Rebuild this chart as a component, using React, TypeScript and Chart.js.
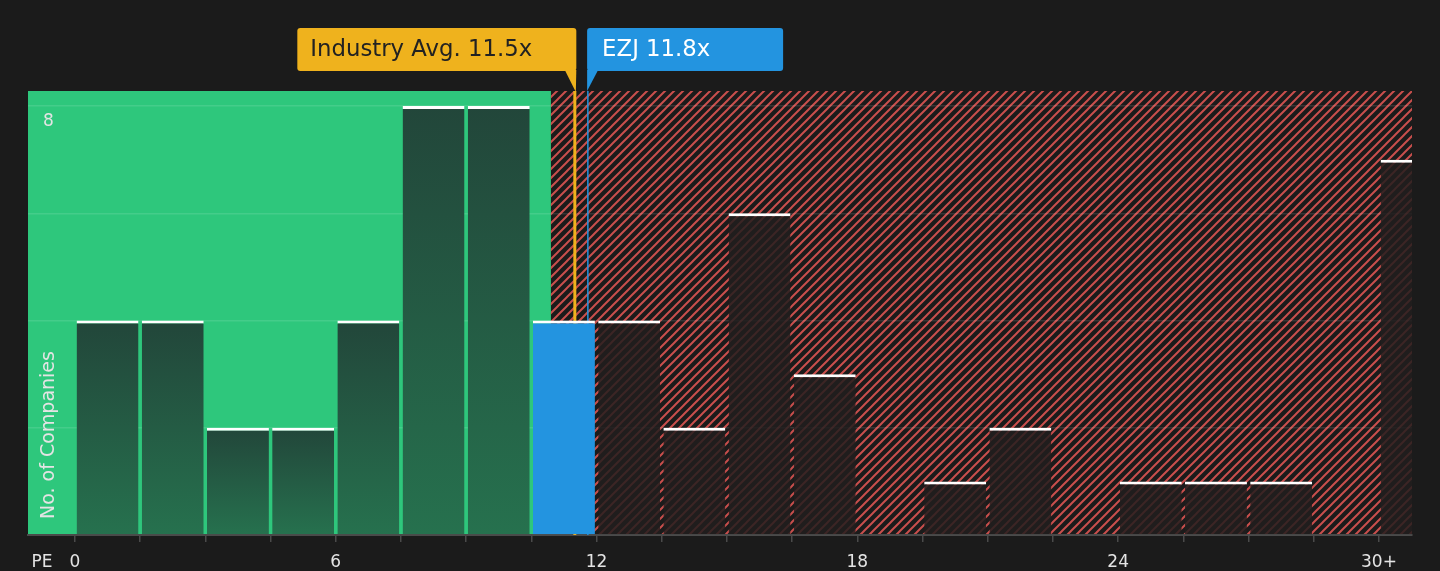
import React, { useEffect, useRef } from "react";
import { Chart, registerables } from "chart.js";

Chart.register(...registerables);

// ---- data ----
const BIN_STARTS = [0, 1.5, 3, 4.5, 6, 7.5, 9, 10.5, 12, 13.5, 15, 16.5, 18, 19.5, 21, 22.5, 24, 25.5, 27, 28.5, 30];
const COUNTS = [4, 4, 2, 2, 4, 8, 8, 4, 4, 2, 6, 3, 0, 1, 2, 0, 1, 1, 1, 0, 7];
const BIN_WIDTH = 1.5;
const HIGHLIGHT_INDEX = 7;
const X_TICKS = [0, 1.5, 3, 4.5, 6, 7.5, 9, 10.5, 12, 13.5, 15, 16.5, 18, 19.5, 21, 22.5, 24, 25.5, 27, 28.5, 30];
const X_TICK_LABELS: Record<string, string> = { "0": "0", "6": "6", "12": "12", "18": "18", "24": "24", "30": "30+" };
const Y_TICKS = [0, 2, 4, 6, 8];
const Y_TICK_LABELS: Record<string, string> = { "8": "8" };
const INDUSTRY_AVG = 11.5;
const COMPANY_PE = 11.8;
const COMPANY_NAME = "EZJ";
const INDUSTRY_LABEL = `Industry Avg. ${INDUSTRY_AVG}x`;
const COMPANY_LABEL = `${COMPANY_NAME} ${COMPANY_PE}x`;
const GOOD_VALUE_LIMIT = 10.95;
const X_MIN = -1.08;
const X_MAX = 30.76;
const Y_MAX = 8.28;
const AXIS_TITLE_X = "PE";
const AXIS_TITLE_Y = "No. of Companies";

// ---- styles ----
const FONT = "'DejaVu Sans', sans-serif";
const BG = "#1b1b1b";
const GREEN = "#2ec77c";
const RED_LINE = "#c94f4d";
const YELLOW = "#efb21d";
const BLUE = "#2394e0";
const TEXT = "#e4e4e4";

function makeHatch(ctx: CanvasRenderingContext2D) {
  const n = 9;
  const c = document.createElement("canvas");
  c.width = n;
  c.height = n;
  const p = c.getContext("2d")!;
  p.strokeStyle = RED_LINE;
  p.lineWidth = 2;
  p.beginPath();
  p.moveTo(-2, n + 2);
  p.lineTo(n + 2, -2);
  p.moveTo(-2, 2);
  p.lineTo(2, -2);
  p.moveTo(n - 2, n + 2);
  p.lineTo(n + 2, n - 2);
  p.stroke();
  return ctx.createPattern(c, "repeat")!;
}

function roundRect(ctx: CanvasRenderingContext2D, x: number, y: number, w: number, h: number, r: number) {
  ctx.beginPath();
  ctx.moveTo(x + r, y);
  ctx.lineTo(x + w - r, y);
  ctx.quadraticCurveTo(x + w, y, x + w, y + r);
  ctx.lineTo(x + w, y + h - r);
  ctx.quadraticCurveTo(x + w, y + h, x + w - r, y + h);
  ctx.lineTo(x + r, y + h);
  ctx.quadraticCurveTo(x, y + h, x, y + h - r);
  ctx.lineTo(x, y + r);
  ctx.quadraticCurveTo(x, y, x + r, y);
  ctx.closePath();
}

const decorPlugin = {
  id: "decor",
  beforeDraw(chart: any) {
    const { ctx, chartArea: a, scales } = chart;
    const split = scales.x.getPixelForValue(GOOD_VALUE_LIMIT);
    ctx.save();
    ctx.fillStyle = GREEN;
    ctx.fillRect(a.left, a.top, split - a.left, a.bottom - a.top);
    ctx.fillStyle = makeHatch(ctx);
    ctx.fillRect(split, a.top, a.right - split, a.bottom - a.top);
    ctx.restore();
  },
  beforeDatasetsDraw(chart: any) {
    const { ctx, chartArea: a, scales } = chart;
    const xi = scales.x.getPixelForValue(INDUSTRY_AVG);
    const xc = scales.x.getPixelForValue(COMPANY_PE);
    ctx.save();
    ctx.strokeStyle = YELLOW;
    ctx.lineWidth = 3;
    ctx.beginPath();
    ctx.moveTo(xi, a.top);
    ctx.lineTo(xi, a.bottom);
    ctx.stroke();
    ctx.strokeStyle = BLUE;
    ctx.lineWidth = 1.5;
    ctx.beginPath();
    ctx.moveTo(xc, a.top);
    ctx.lineTo(xc, a.bottom);
    ctx.stroke();
    ctx.restore();
  },
  afterDraw(chart: any) {
    const { ctx, chartArea: a, scales } = chart;
    const xi = scales.x.getPixelForValue(INDUSTRY_AVG);
    const xc = scales.x.getPixelForValue(COMPANY_PE);
    const boxTop = 28;
    const boxH = 43;
    ctx.save();
    // industry box
    const iw = 279;
    const ix = xi + 1.5 - iw;
    ctx.fillStyle = YELLOW;
    roundRect(ctx, ix, boxTop, iw, boxH, 3);
    ctx.fill();
    ctx.beginPath();
    ctx.moveTo(xi - 10, boxTop + boxH - 1);
    ctx.lineTo(xi + 1.5, boxTop + boxH - 1);
    ctx.lineTo(xi + 1, a.top + 1);
    ctx.closePath();
    ctx.fill();
    ctx.font = `22.8px ${FONT}`;
    ctx.textBaseline = "middle";
    ctx.textAlign = "left";
    ctx.fillStyle = "#222222";
    ctx.fillText(INDUSTRY_LABEL, ix + 13, boxTop + boxH / 2 + 1);
    // company box
    const cw = 196;
    const cx = xc - 0.75;
    ctx.fillStyle = BLUE;
    roundRect(ctx, cx, boxTop, cw, boxH, 3);
    ctx.fill();
    ctx.beginPath();
    ctx.moveTo(cx, boxTop + boxH - 1);
    ctx.lineTo(cx + 11, boxTop + boxH - 1);
    ctx.lineTo(cx, a.top);
    ctx.closePath();
    ctx.fill();
    ctx.fillStyle = "#ffffff";
    ctx.fillText(COMPANY_LABEL, cx + 15, boxTop + boxH / 2 + 1);
    // y axis title (inside plot)
    ctx.save();
    ctx.translate(a.left + 21, a.bottom - 16);
    ctx.rotate(-Math.PI / 2);
    ctx.font = `19px ${FONT}`;
    ctx.fillStyle = TEXT;
    ctx.textAlign = "left";
    ctx.textBaseline = "middle";
    ctx.fillText(AXIS_TITLE_Y, 0, 0);
    ctx.restore();
    // x axis title
    ctx.font = `17px ${FONT}`;
    ctx.fillStyle = TEXT;
    ctx.textAlign = "center";
    ctx.textBaseline = "middle";
    ctx.fillText(AXIS_TITLE_X, a.left + 14, 563);
    ctx.restore();
  },
};

export default function App() {
  const ref = useRef<HTMLCanvasElement | null>(null);

  useEffect(() => {
    if (!ref.current) return;
    const chart = new Chart(ref.current, {
      type: "bar",
      data: {
        datasets: [
          {
            data: BIN_STARTS.map((s, i) => ({ x: s + BIN_WIDTH / 2, y: COUNTS[i] })),
            backgroundColor: (c: any) => {
              if (c.type !== "data") return "transparent";
              const i = c.dataIndex;
              if (i === HIGHLIGHT_INDEX) return BLUE;
              const chart = c.chart;
              const start = BIN_STARTS[i];
              if (start + BIN_WIDTH <= GOOD_VALUE_LIMIT) {
                const y = chart.scales?.y;
                if (!y || !chart.chartArea) return "#245a42";
                const top = y.getPixelForValue(COUNTS[i]);
                const bot = y.getPixelForValue(0);
                if (!isFinite(top) || !isFinite(bot) || bot - top < 1) return "#245a42";
                const g = chart.ctx.createLinearGradient(0, top, 0, bot);
                g.addColorStop(0, "#22463a");
                g.addColorStop(1, "#26714e");
                return g;
              }
              return "rgba(33,30,30,0.84)";
            },
            borderColor: "#ffffff",
            borderWidth: { top: 3, left: 0, right: 0, bottom: 0 },
            borderSkipped: false,
            barPercentage: 1,
            categoryPercentage: 0.95,
          } as any,
        ],
      },
      options: {
        animation: false,
        responsive: true,
        maintainAspectRatio: false,
        layout: { padding: { left: 28, right: 28, top: 91, bottom: 0 } },
        plugins: { legend: { display: false }, tooltip: { enabled: false } },
        scales: {
          x: {
            type: "linear",
            offset: false,
            min: X_MIN,
            max: X_MAX,
            afterBuildTicks: (s: any) => {
              s.ticks = X_TICKS.map((v) => ({ value: v }));
            },
            afterFit: (s: any) => {
              s.height = 36;
            },
            ticks: {
              autoSkip: false,
              maxRotation: 0,
              padding: 10,
              color: TEXT,
              font: { family: FONT, size: 17 },
              callback: (v: any) => X_TICK_LABELS[String(v)] ?? "",
            },
            grid: { offset: false, drawOnChartArea: false, drawTicks: true, tickLength: 7, color: "#4a4a4a", lineWidth: 1.5 },
            border: { display: true, color: "#4a4a4a", width: 2 },
          },
          y: {
            type: "linear",
            min: 0,
            max: Y_MAX,
            afterBuildTicks: (s: any) => {
              s.ticks = Y_TICKS.map((v) => ({ value: v }));
            },
            afterFit: (s: any) => {
              s.width = 0;
            },
            ticks: {
              mirror: true,
              padding: 15,
              labelOffset: 16,
              color: TEXT,
              font: { family: FONT, size: 17 },
              callback: (v: any) => Y_TICK_LABELS[String(v)] ?? "",
            },
            grid: {
              drawTicks: false,
              color: (c: any) => (c.tick && c.tick.value === 0 ? "transparent" : "rgba(255,255,255,0.11)"),
              lineWidth: 1.5,
            },
            border: { display: false },
          },
        },
      },
      plugins: [decorPlugin],
    });
    return () => chart.destroy();
  }, []);

  return (
    <div style={{ position: "fixed", left: 0, top: 0, width: 1440, height: 571, background: BG }}>
      <canvas ref={ref} />
    </div>
  );
}
